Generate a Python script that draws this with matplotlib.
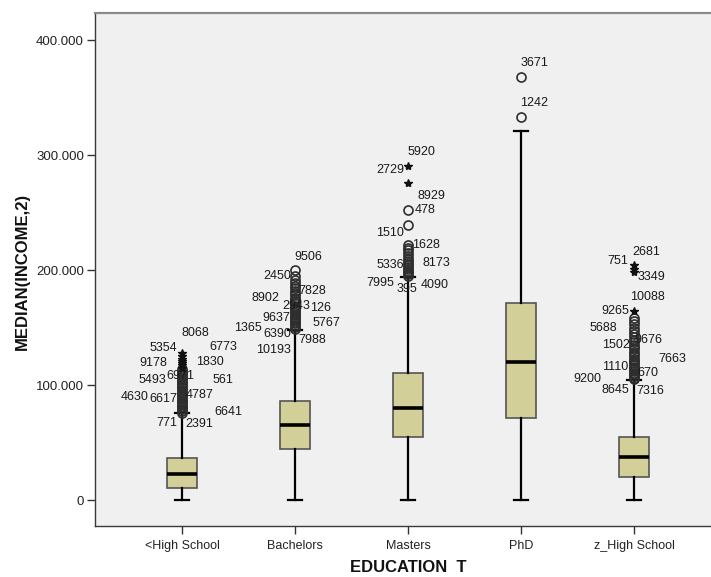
import matplotlib
matplotlib.use("Agg")
import matplotlib.pyplot as plt
from matplotlib.ticker import FuncFormatter

plt.rcParams["font.family"] = ["Liberation Sans", "DejaVu Sans"]

# values in thousands of income units
CATEGORIES = ["<High School", "Bachelors", "Masters", "PhD", "z_High School"]
Q1 = [10.7, 44.6, 55.0, 71.3, 20.3]
MEDIAN = [22.9, 65.0, 80.0, 120.3, 37.7]
Q3 = [36.8, 85.8, 110.4, 171.6, 55.0]
WHISK_LO = [0.0, 0.0, 0.0, 0.0, 0.0]
WHISK_HI = [75.6, 147.8, 194.0, 320.9, 104.0]

# outliers (circles) and extremes (stars), per category
OUTLIERS = [
    [76, 77.5, 79, 80.5, 82, 83.5, 85, 86.5, 88, 89.5, 91, 92.5, 94, 95.5, 97,
     98.5, 100, 101.5, 103, 104.5, 106, 107.5, 109, 110.5, 112, 113.5],
    [149, 150.5, 152, 153.5, 155, 156.5, 158, 159.5, 161, 162.5, 164, 165.5, 167,
     169, 171, 173, 174.5, 176, 178, 180, 182, 184, 186, 188.5, 191, 195, 200],
    [195, 196.5, 198, 199.5, 201, 202.5, 204, 206, 208, 210, 212, 214.5, 217,
     219.5, 222, 239, 252],
    [332.8, 367.5],
    [105, 106.5, 108, 109.5, 110.5, 112, 113.5, 115, 116, 117.5, 119, 120.5, 122,
     123, 125, 127, 129, 131, 133, 135, 137, 139, 141.5, 144, 147, 150, 153, 156, 158],
]
EXTREMES = [
    [115, 117, 119, 121, 123, 125, 128],
    [],
    [276, 290.7],
    [],
    [164, 198.5, 200.5, 204],
]

# case labels: (category index, case id, value of the labelled point)
CASE_LABELS = [
    (0, "8068", 128), (0, "5354", 125), (0, "6773", 123), (0, "9178", 119),
    (0, "1830", 121), (0, "6971", 107.5), (0, "5493", 104.5), (0, "561", 106),
    (0, "4630", 89.5), (0, "6617", 88), (0, "4787", 91), (0, "6641", 77.5),
    (0, "771", 76), (0, "2391", 76),
    (1, "9506", 200), (1, "2450", 195), (1, "7828", 182), (1, "8902", 176),
    (1, "2943", 169), (1, "126", 167), (1, "9637", 158), (1, "5767", 153.5),
    (1, "1365", 150.5), (1, "6390", 149), (1, "7988", 149), (1, "10193", 149),
    (2, "5920", 290.7), (2, "2729", 290.7), (2, "8929", 276), (2, "478", 252),
    (2, "1510", 239), (2, "1628", 222), (2, "5336", 204), (2, "8173", 206),
    (2, "7995", 195), (2, "395", 195), (2, "4090", 195),
    (3, "3671", 367.5), (3, "1242", 332.8),
    (4, "2681", 204), (4, "751", 204), (4, "3349", 198.5), (4, "10088", 164),
    (4, "9265", 164), (4, "5688", 150), (4, "9676", 139), (4, "1502", 135),
    (4, "7663", 123), (4, "1110", 116), (4, "670", 110.5), (4, "9200", 105),
    (4, "8645", 105), (4, "7316", 105),
]

# layout: label offsets in pixels from the labelled point (same order)
LABEL_OFFSETS = [
    (13, 20), (-19, 8), (41, 12), (-29, 0), (28, -1), (-2, 0), (-30, 0), (41, -2),
    (-47, 0), (-19, 0), (18, 0), (46, -1), (-15, -10), (17, -11),
    (13, 13), (-18, 0), (17, 0), (-30, 0), (1, 0), (26, 0), (-19, 0), (31, 0),
    (-47, -1), (-18, -5), (17, -11), (-22, -21),
    (13, 14), (-18, -4), (23, -13), (17, 0), (-18, -8), (18, 0), (-18, 0), (28, 0),
    (-28, -7), (-1, -13), (27, -9),
    (13, 14), (13, 14),
    (12, 13), (-16, 4), (17, -5), (13, 14), (-19, 0), (-31, 0), (14, 0), (-18, 0),
    (38, 0), (-19, 0), (14, 0), (-47, 0), (-19, -11), (16, -12),
]

W, H = 711, 577
fig = plt.figure(figsize=(W / 100, H / 100), dpi=100)
ax = fig.add_axes([95 / W, 1 - 526 / H, (W - 95) / W, 513 / H])
ax.set_facecolor("#f0f0f0")

positions = list(range(1, len(CATEGORIES) + 1))
stats = []
for i, name in enumerate(CATEGORIES):
    stats.append({"label": name, "q1": Q1[i], "med": MEDIAN[i], "q3": Q3[i],
                  "whislo": WHISK_LO[i], "whishi": WHISK_HI[i], "fliers": []})

ax.bxp(stats, positions=positions, widths=0.26, capwidths=0.13, showfliers=False,
       patch_artist=True,
       boxprops=dict(facecolor="#d3cf98", edgecolor="#555555", linewidth=1.2),
       medianprops=dict(color="black", linewidth=2.6),
       whiskerprops=dict(color="black", linewidth=1.6),
       capprops=dict(color="black", linewidth=1.6), zorder=2)

for pos, outs, exts in zip(positions, OUTLIERS, EXTREMES):
    if outs:
        ax.plot([pos] * len(outs), outs, ls="none", marker="o", ms=6.5,
                mfc="none", mec="#2e2e2e", mew=1.2, zorder=3)
    if exts:
        ax.plot([pos] * len(exts), exts, ls="none", marker="*", ms=6,
                color="#111111", zorder=3)

for (cat, text, val), (dx, dy) in zip(CASE_LABELS, LABEL_OFFSETS):
    ax.annotate(text, (positions[cat], val), xytext=(dx, dy),
                textcoords="offset pixels", ha="center", va="center",
                fontsize=9, color="#1a1a1a", zorder=4)

ax.set_xlim(0.23, 5.68)
ax.set_ylim(-22.6, 423.5)
ax.set_yticks([0, 100, 200, 300, 400])
ax.yaxis.set_major_formatter(
    FuncFormatter(lambda v, _: "0" if v == 0 else f"{int(v * 1000):,}".replace(",", ".")))
ax.set_xticks(positions)
ax.set_xticklabels(CATEGORIES)
ax.tick_params(axis="y", direction="out", length=6, width=1, color="#333333",
               labelsize=9.5, labelcolor="#222222", pad=2)
ax.tick_params(axis="x", direction="out", length=6, width=1, color="#333333",
               labelsize=9, labelcolor="#222222", pad=4)

ax.spines["right"].set_visible(False)
ax.spines["top"].set_color("#8a8a8a")
ax.spines["top"].set_linewidth(1.6)
for s in ("left", "bottom"):
    ax.spines[s].set_color("#3a3a3a")
    ax.spines[s].set_linewidth(1.0)

fig.text(408 / W, 1 - 568 / H, "EDUCATION  T", ha="center", va="center",
         fontsize=12, fontweight="bold", color="#111111")
fig.text(22 / W, 1 - 271 / H, "MEDIAN(INCOME,2)", ha="center", va="center",
         rotation=90, fontsize=12, fontweight="bold", color="#111111")

fig.savefig("out.png", dpi=100)
